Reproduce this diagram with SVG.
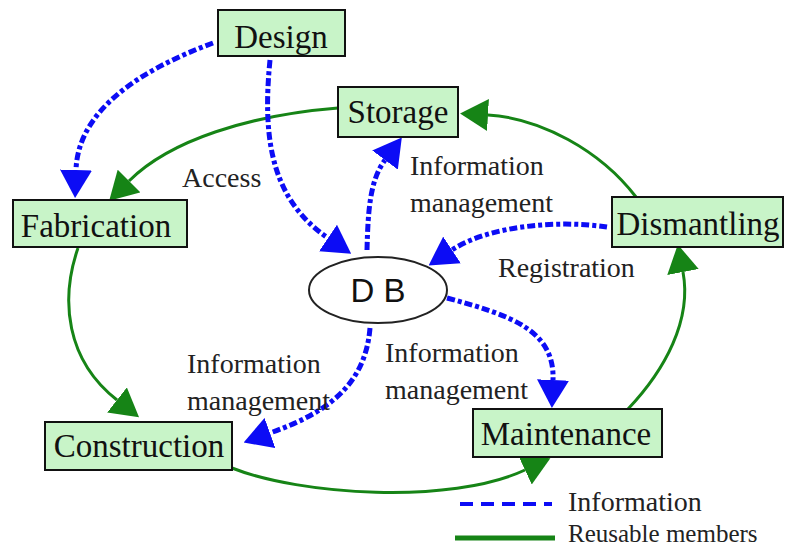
<svg xmlns="http://www.w3.org/2000/svg" width="785" height="548" viewBox="0 0 785 548">
  <defs>
    <style>
      .node rect { fill: #c8f4c8; stroke: #111; stroke-width: 2; }
      .node text { font-family: "Liberation Serif", "Times New Roman", serif; font-size: 33px; fill: #111; text-anchor: middle; }
      .db ellipse { fill: #fff; stroke: #222; stroke-width: 2; }
      .db text { font-family: "Liberation Sans", Arial, sans-serif; font-size: 33px; fill: #111; text-anchor: middle; }
      .info { fill: none; stroke: #0c0cf5; stroke-width: 5; stroke-dasharray: 8 3 4 3; marker-end: url(#arrowBlue); }
      .reuse { fill: none; stroke: #168416; stroke-width: 3; marker-end: url(#arrowGreen); }
      .label { font-family: "Liberation Serif", "Times New Roman", serif; font-size: 28px; fill: #222; }
    </style>
    <!-- path ends at the arrow base; the head extends forward from there -->
    <marker id="arrowBlue" viewBox="0 0 28 32" refX="0" refY="16" markerWidth="28" markerHeight="32" markerUnits="userSpaceOnUse" orient="auto">
      <path d="M0,0 L28,16 L0,32 Z" fill="#0c0cf5"/>
    </marker>
    <marker id="arrowGreen" viewBox="0 0 28 32" refX="0" refY="16" markerWidth="28" markerHeight="32" markerUnits="userSpaceOnUse" orient="auto">
      <path d="M0,0 L28,16 L0,32 Z" fill="#168416"/>
    </marker>
  </defs>

  <rect width="785" height="548" fill="#fff"/>

  <!-- connectors -->
  <g id="connectors">
    <!-- reusable members cycle -->
    <path class="reuse" d="M338,108 C 250,115 170,140 129,181"/>
    <path class="reuse" d="M78,248 C 60,300 66,360 117,400"/>
    <path class="reuse" d="M232,468 C 300,495 450,505 525,470"/>
    <path class="reuse" d="M628,409 C 665,370 692,320 683,272"/>
    <path class="reuse" d="M636,197 C 600,150 540,118 488,115"/>
    <!-- information flows -->
    <path class="info" d="M213,43 C 140,70 78,110 76,170"/>
    <path class="info" d="M270,60 C 262,140 272,200 328,238"/>
    <path class="info" d="M367,250 C 368,210 370,180 385,160"/>
    <path class="info" d="M607,227 C 560,220 490,225 452,250"/>
    <path class="info" d="M447,298 C 510,315 555,330 553,380"/>
    <path class="info" d="M370,328 C 365,390 320,415 270,433"/>
  </g>

  <!-- connector labels -->
  <g id="labels">
    <text class="label" x="182" y="187">Access</text>
    <text class="label" x="410" y="175">Information</text>
    <text class="label" x="410" y="212">management</text>
    <text class="label" x="498" y="277">Registration</text>
    <text class="label" x="187" y="373">Information</text>
    <text class="label" x="187" y="410">management</text>
    <text class="label" x="385" y="362">Information</text>
    <text class="label" x="385" y="399">management</text>
  </g>

  <!-- nodes -->
  <g id="design" class="node">
    <rect x="218" y="10" width="127" height="46"/>
    <text x="281" y="48">Design</text>
  </g>
  <g id="storage" class="node">
    <rect x="338" y="87" width="120" height="50"/>
    <text x="398" y="123">Storage</text>
  </g>
  <g id="fabrication" class="node">
    <rect x="13" y="200" width="174" height="47"/>
    <text x="96" y="237">Fabrication</text>
  </g>
  <g id="dismantling" class="node">
    <rect x="612" y="197" width="171" height="50"/>
    <text x="698" y="235">Dismantling</text>
  </g>
  <g id="construction" class="node">
    <rect x="45" y="422" width="187" height="48"/>
    <text x="139" y="457">Construction</text>
  </g>
  <g id="maintenance" class="node">
    <rect x="473" y="409" width="189" height="48"/>
    <text x="566" y="445">Maintenance</text>
  </g>
  <g id="db" class="db">
    <ellipse cx="378" cy="290" rx="69" ry="33"/>
    <text x="378" y="302">D B</text>
  </g>

  <!-- legend -->
  <g id="legend">
    <line x1="460" y1="504" x2="552" y2="504" stroke="#0c0cf5" stroke-width="4" stroke-dasharray="13 8"/>
    <text class="label" x="568" y="511">Information</text>
    <line x1="455" y1="538" x2="555" y2="538" stroke="#168416" stroke-width="5"/>
    <text class="label" x="568" y="542" style="font-size:25px">Reusable members</text>
  </g>
</svg>
